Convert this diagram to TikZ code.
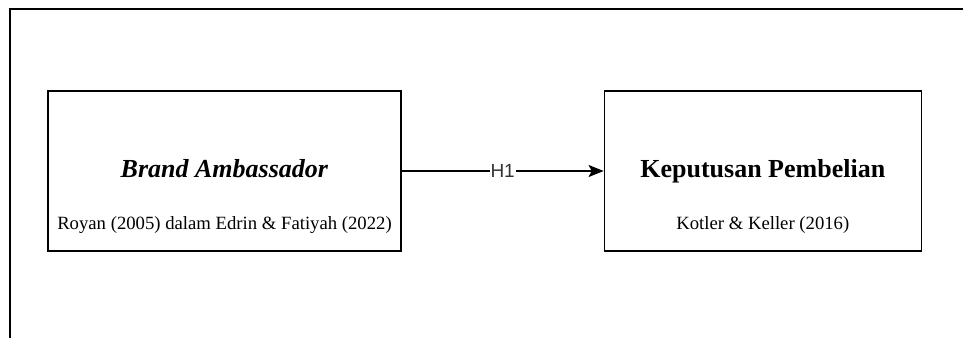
\documentclass[tikz,border=0pt]{standalone}
\usepackage{fontspec}
\setmainfont{Liberation Serif}
\newfontfamily\hlabelfont{Liberation Sans}
\usepackage{xcolor}
\usetikzlibrary{arrows.meta,positioning}
\definecolor{labelgray}{HTML}{333333}
\tikzset{
  varbox/.style={draw,line width=1.3pt,minimum height=160pt,inner sep=0pt},
  vartitle/.style={anchor=base,font=\fontsize{26}{30}\selectfont\bfseries},
  varsource/.style={anchor=base,font=\fontsize{18.7}{22}\selectfont},
  hypothesis/.style={
    -{Stealth[length=15pt,width=12pt,inset=3pt]},line width=1.3pt
  },
  hlabel/.style={fill=white,inner sep=1pt,text=labelgray,
    font=\hlabelfont\fontsize{19}{22}\selectfont},
  outerframe/.style={line width=1.3pt}
}
\begin{document}
\begin{tikzpicture}[x=1pt,y=1pt,node distance=202pt]
  \useasboundingbox (0,0) rectangle (963,338);
  \draw[outerframe] (10,0) -- (10,329) -- (963,329);

  % variable boxes
  \node (brand) [varbox,minimum width=353pt] at (224.5,167) {};
  \node (keputusan) [varbox,minimum width=317pt,right=of brand] {};

  \node (brandtitle) [vartitle] at ([yshift=74pt]brand.south) {\textit{Brand Ambassador}};
  \node (brandsrc) [varsource] at ([yshift=22pt]brand.south) {Royan (2005) dalam Edrin \& Fatiyah (2022)};
  \node (keputusantitle) [vartitle] at ([yshift=74pt]keputusan.south) {Keputusan Pembelian};
  \node (keputusansrc) [varsource] at ([yshift=22pt]keputusan.south) {Kotler \& Keller (2016)};

  % hypothesis
  \draw[hypothesis] (brand) -- node[hlabel,pos=0.5] {H1} (keputusan);
\end{tikzpicture}
\end{document}
